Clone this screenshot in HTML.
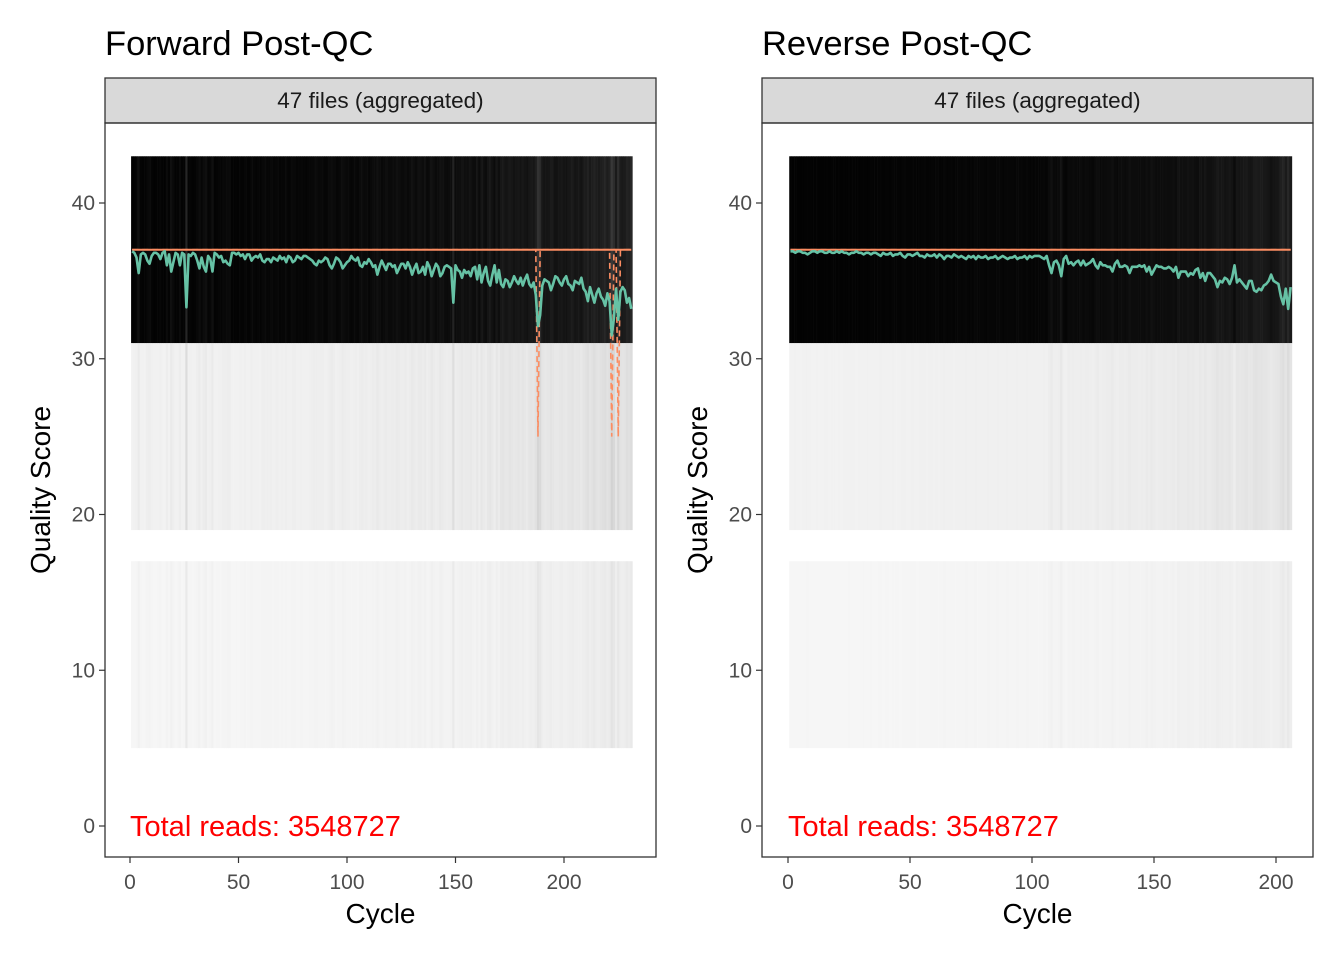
<!DOCTYPE html>
<html><head><meta charset="utf-8"><style>
body{margin:0;background:#fff}
svg text{font-family:"Liberation Sans",sans-serif}
</style></head><body>
<svg id="svg" width="1344" height="960" xmlns="http://www.w3.org/2000/svg"></svg>
<script>
const fwdMean=[36.9,36.8,36.5,35.5,36.7,36.8,36.7,36.3,36.1,36.6,36.8,36.8,36.7,36.4,36.8,36.9,36.0,36.7,35.6,36.2,
36.8,36.7,36.0,36.8,36.7,33.3,36.7,36.6,36.8,36.7,36.3,35.8,36.5,35.9,35.6,36.6,36.4,35.6,36.8,36.7,
36.5,36.6,36.2,36.3,36.1,36.0,36.8,36.8,36.7,36.8,36.6,36.7,36.4,36.7,36.7,36.3,36.5,36.6,36.5,36.7,
36.3,36.2,36.4,36.4,36.2,36.5,36.4,36.3,36.6,36.4,36.5,36.2,36.6,36.5,36.2,36.3,36.6,36.5,36.4,36.6,
36.6,36.5,36.4,36.3,36.1,36.0,36.3,36.2,36.3,36.5,36.4,36.0,35.8,36.1,36.5,36.4,36.2,35.8,36.0,36.2,
36.3,36.6,36.4,36.3,36.5,36.0,35.9,36.2,36.1,36.4,36.2,35.9,36.0,35.4,35.9,36.3,36.0,35.7,36.1,36.1,
35.9,36.0,35.5,35.8,36.1,36.1,35.8,36.2,35.9,35.4,35.8,36.1,35.5,35.6,35.9,35.4,36.2,35.9,35.3,35.7,
36.1,35.9,35.3,35.5,35.9,36.0,35.9,35.8,33.6,36.0,35.7,35.6,35.2,35.7,35.5,35.6,35.3,35.8,35.9,35.1,
36.0,34.9,35.5,35.9,35.0,34.7,35.4,36.0,34.9,35.7,34.8,34.6,35.1,35.0,34.6,34.9,35.3,35.0,34.8,35.2,
34.7,35.1,35.4,34.8,34.6,34.9,34.1,32.1,32.8,34.7,35.1,35.0,34.9,34.4,34.8,35.3,35.2,34.9,34.7,35.1,
35.3,34.8,34.7,34.4,35.0,34.9,34.8,35.2,34.5,34.3,33.7,34.6,34.1,33.6,34.2,34.5,34.0,33.8,33.4,34.2,
33.7,31.5,32.6,34.5,32.5,34.3,34.6,34.4,33.6,33.9,33.2];
const revMean=[36.9,36.9,36.8,36.9,36.9,36.8,36.8,36.7,36.8,36.9,36.9,36.8,36.9,36.9,36.8,36.8,36.9,36.8,36.8,36.9,
36.8,36.9,36.8,36.8,36.7,36.8,36.8,36.9,36.8,36.8,36.7,36.8,36.8,36.7,36.8,36.8,36.7,36.6,36.8,36.7,
36.7,36.8,36.6,36.7,36.7,36.8,36.6,36.5,36.7,36.7,36.6,36.7,36.8,36.6,36.6,36.5,36.7,36.6,36.6,36.7,
36.5,36.7,36.6,36.4,36.6,36.6,36.5,36.7,36.6,36.5,36.6,36.5,36.4,36.6,36.5,36.6,36.4,36.6,36.5,36.5,
36.6,36.4,36.5,36.5,36.6,36.4,36.5,36.6,36.5,36.4,36.5,36.5,36.6,36.4,36.5,36.5,36.6,36.4,36.6,36.5,
36.6,36.6,36.6,36.5,36.4,36.6,36.0,35.5,36.2,36.3,36.0,35.3,36.4,36.6,36.1,36.2,36.0,36.2,36.3,36.0,
36.3,36.0,36.1,36.2,36.4,36.0,35.8,36.2,36.0,36.0,35.9,35.9,35.6,36.1,36.3,35.9,35.9,36.0,35.9,35.5,
35.9,35.9,35.9,36.0,35.9,36.0,35.6,35.9,35.4,35.7,36.0,35.9,35.9,35.8,35.8,35.9,35.8,35.6,35.9,35.2,
35.6,35.6,35.6,35.3,35.5,35.4,35.7,35.8,35.2,35.5,35.0,35.5,35.5,35.3,35.1,34.6,35.0,34.9,35.2,35.1,
34.8,35.2,36.0,34.9,35.1,34.9,34.7,34.5,35.0,35.0,34.4,34.3,34.5,34.4,34.7,34.8,35.0,35.4,35.0,34.9,
34.8,34.0,33.5,34.5,33.2,34.6];
const fwdQ25Drops=[188,222,225];
const revQ25Drops=[];
const medianQ=37;
const tileQ=[37,25,11];
const xTicks=[0,50,100,150,200];
const yTicks=[0,10,20,30,40];
const totalReads="3548727";

const svg=document.getElementById('svg');
const NS='http://www.w3.org/2000/svg';
function el(tag,attrs,parent){const e=document.createElementNS(NS,tag);for(const k in attrs)e.setAttribute(k,attrs[k]);(parent||svg).appendChild(e);return e;}
function yS(q){return 826-q*15.575;}

function panel(opt){
  const g=el('g',{});
  
  
  const xS=c=>opt.x0+c*opt.k;
  const L=opt.left,R=opt.left+551;
  const t=el('text',{x:L,y:55,'font-size':34.5,fill:'#000'},g);t.textContent=opt.title;
  
  const st=el('rect',{x:L,y:78,width:551,height:45,fill:'#d9d9d9',stroke:'#333','stroke-width':1.3},g);
  
  const stt=el('text',{x:(L+R)/2,y:108,'font-size':22.5,fill:'#1a1a1a','text-anchor':'middle'},g);stt.textContent='47 files (aggregated)';
  
  const n=opt.mean.length;
  for(let i=0;i<n;i++){
    const d=Math.max(0,36.9-opt.mean[i]);
    const x1=xS(i+0.5),w=opt.k+0.3;
    const shades=[Math.min(70,2+d*10),Math.max(210,242-d*6),Math.max(225,246-d*3.5)];
    tileQ.forEach((q,j)=>{
      const v=Math.round(shades[j]);
      const r=el('rect',{x:x1,y:yS(q+6),width:w,height:yS(q-6)-yS(q+6),fill:`rgb(${v},${v},${v})`},g);
      
      
    });
  }
  const med=el('line',{x1:xS(1),x2:xS(n),y1:yS(medianQ),y2:yS(medianQ),stroke:'#FC8D62','stroke-width':2},g);
  
  let pts=[];
  for(let i=0;i<n;i++){const q=opt.drops.includes(i+1)?25:37;pts.push(xS(i+1)+','+yS(q));}
  const ql=el('polyline',{points:pts.join(' '),fill:'none',stroke:'#FC8D62','stroke-width':1.6,'stroke-dasharray':'6,4'},g);
  
  pts=opt.mean.map((m,i)=>xS(i+1)+','+yS(m));
  const ml=el('polyline',{points:pts.join(' '),fill:'none',stroke:'#66C2A5','stroke-width':2.6,'stroke-linejoin':'round'},g);
  
  const tr=el('text',{x:xS(0),y:836,'font-size':29,fill:'#ff0000'},g);tr.textContent='Total reads: '+totalReads;
  
  const fr=el('rect',{x:L,y:123,width:551,height:734,fill:'none',stroke:'#333','stroke-width':1.3},g);
  
  xTicks.forEach(v=>{
    el('line',{x1:xS(v),x2:xS(v),y1:857,y2:863,stroke:'#333','stroke-width':1.2},g);
    const tx=el('text',{x:xS(v),y:889,'font-size':21,fill:'#4d4d4d','text-anchor':'middle'},g);tx.textContent=v;
    
  });
  yTicks.forEach(v=>{
    el('line',{x1:L-6,x2:L,y1:yS(v),y2:yS(v),stroke:'#333','stroke-width':1.2},g);
    const ty=el('text',{x:L-10,y:yS(v)+7,'font-size':21,fill:'#4d4d4d','text-anchor':'end'},g);ty.textContent=v;
    
  });
  const xt=el('text',{x:(L+R)/2,y:923,'font-size':28,fill:'#000','text-anchor':'middle'},g);xt.textContent='Cycle';
  
  const yt=el('text',{x:0,y:0,'font-size':28,fill:'#000','text-anchor':'middle',transform:`translate(${L-55},490) rotate(-90)`},g);yt.textContent='Quality Score';
  
}
panel({name:'forward-panel',title:'Forward Post-QC',left:105,x0:130,k:2.17,mean:fwdMean,drops:fwdQ25Drops});
panel({name:'reverse-panel',title:'Reverse Post-QC',left:762,x0:788,k:2.44,mean:revMean,drops:revQ25Drops});
</script>
</body></html>
